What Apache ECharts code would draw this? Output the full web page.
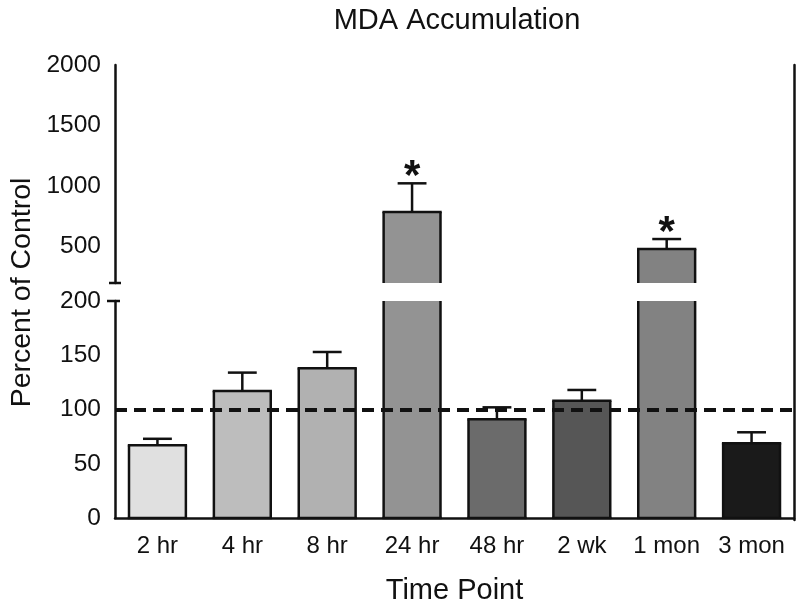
<!DOCTYPE html>
<html>
<head>
<meta charset="utf-8">
<script src="https://cdn.jsdelivr.net/npm/echarts@6/dist/echarts.min.js"></script>
<style>
html, body { margin: 0; padding: 0; background: #fff; }
#chart { width: 800px; height: 606px; }
</style>
</head>
<body>
<div id="chart"></div>
<script>
// data
var categories = ["2 hr", "4 hr", "8 hr", "24 hr", "48 hr", "2 wk", "1 mon", "3 mon"];
var meanValues = [67, 117, 138, 786, 91, 108, 481, 69];
var semValues = [6, 17, 15, 237, 11, 10, 82, 10];
var significant = [0, 0, 0, 1, 0, 0, 1, 0];
var barColors = ["#e0e0e0", "#bdbdbd", "#b1b1b1", "#939393", "#6b6b6b", "#565656", "#828282", "#1a1a1a"];
var lowerTicks = [0, 50, 100, 150, 200];
var upperTicks = [500, 1000, 1500, 2000];
var breakValue = 200;
var upperMax = 2000;
var controlLevel = 100;

var ink = "#111";
var font = "Liberation Sans";

var chart = echarts.init(document.getElementById("chart"), null, { renderer: "canvas" });

function barData(upperOnly) {
  var out = [];
  meanValues.forEach(function (v, i) {
    if (!upperOnly || v > breakValue) out.push([i, v]);
  });
  return out;
}

function errData(upper) {
  var out = [];
  meanValues.forEach(function (v, i) {
    if ((v > breakValue) === upper) out.push([i, v, semValues[i], significant[i]]);
  });
  return out;
}

// bar drawn by hand so the edges cut by the axis break get no outline
function barItem(params, api) {
  var i = api.value(0), v = api.value(1);
  var cs = params.coordSys;
  var w = api.size([1, 0])[0] * 0.67;
  var top = api.coord([i, v]);
  var base = api.coord([i, 0]);
  var x0 = top[0] - w / 2, x1 = top[0] + w / 2;
  var gTop = cs.y, gBot = cs.y + cs.height;
  var y1 = Math.max(top[1], gTop), y2 = Math.min(base[1], gBot);
  var topCut = top[1] < gTop, baseCut = base[1] > gBot + 0.5;
  var stroke = { stroke: ink, lineWidth: 2.5, fill: null };
  var kids = [
    { type: "rect", shape: { x: x0, y: y1, width: w, height: y2 - y1 },
      style: { fill: barColors[i] } },
    { type: "line", shape: { x1: x0, y1: y1, x2: x0, y2: y2 }, style: stroke },
    { type: "line", shape: { x1: x1, y1: y1, x2: x1, y2: y2 }, style: stroke }
  ];
  if (!topCut) kids.push({ type: "line", shape: { x1: x0 - 1.2, y1: y1, x2: x1 + 1.2, y2: y1 }, style: stroke });
  if (!baseCut) kids.push({ type: "line", shape: { x1: x0 - 1.2, y1: y2, x2: x1 + 1.2, y2: y2 }, style: stroke });
  return { type: "group", children: kids };
}

function errorItem(params, api) {
  var i = api.value(0), v = api.value(1), e = api.value(2);
  var base = api.coord([i, v]);
  var top = api.coord([i, v + e]);
  var capW = api.size([1, 0])[0] * 0.34;
  var kids = [
    { type: "line", shape: { x1: base[0], y1: base[1], x2: top[0], y2: top[1] },
      style: { stroke: ink, lineWidth: 2.5 } },
    { type: "line", shape: { x1: top[0] - capW / 2, y1: top[1], x2: top[0] + capW / 2, y2: top[1] },
      style: { stroke: ink, lineWidth: 2.5 } }
  ];
  if (api.value(3)) {
    kids.push({ type: "text", style: { text: "*", x: top[0], y: top[1] - 6,
      align: "center", verticalAlign: "middle", font: "bold 42px " + font, fill: ink } });
  }
  return { type: "group", children: kids };
}

var axisLine = { show: true, lineStyle: { color: ink, width: 2.5 } };
var tickLabel = { color: ink, fontSize: 24.5, fontFamily: font, formatter: function (v) { return String(v); } };

var option = {
  animation: false,
  title: {
    text: "MDA Accumulation",
    left: 452, textAlign: "center", top: 1,
    textStyle: { color: ink, fontSize: 29, fontWeight: "normal", fontFamily: font }
  },
  grid: [
    { left: 115, right: 6, top: 65, height: 218 },
    { left: 115, right: 6, top: 301, height: 219 },
    { left: 115, right: 6, top: 65, bottom: 86 }
  ],
  xAxis: [
    { gridIndex: 0, type: "category", data: categories, show: false },
    {
      gridIndex: 1, type: "category", data: categories,
      axisLine: axisLine,
      axisTick: { alignWithLabel: true, interval: 0, length: 7, lineStyle: { color: ink, width: 2.5 } },
      axisLabel: { color: ink, fontSize: 24, fontFamily: font, margin: 16, interval: 0, hideOverlap: false },
      name: "Time Point", nameLocation: "middle", nameGap: 58,
      nameTextStyle: { color: ink, fontSize: 29, fontFamily: font }
    },
    { gridIndex: 2, type: "value", show: false }
  ],
  yAxis: [
    {
      gridIndex: 0, type: "value", min: breakValue, max: upperMax,
      axisLine: axisLine,
      axisTick: { length: 8, customValues: upperTicks, lineStyle: { color: ink, width: 2.5 } },
      axisLabel: Object.assign({ margin: 14, customValues: upperTicks }, tickLabel),
      splitLine: { show: false }
    },
    {
      gridIndex: 1, type: "value", min: 0, max: breakValue, interval: 50,
      axisLine: axisLine,
      axisTick: { length: 8, lineStyle: { color: ink, width: 2.5 } },
      axisLabel: Object.assign({ margin: 14 }, tickLabel),
      splitLine: { show: false }
    },
    {
      gridIndex: 2, type: "value", position: "left",
      axisLine: { show: false }, axisTick: { show: false }, axisLabel: { show: false },
      splitLine: { show: false },
      name: "Percent of Control", nameLocation: "middle", nameGap: 95, nameRotate: 90,
      nameTextStyle: { color: ink, fontSize: 28.5, fontFamily: font }
    },
    {
      gridIndex: 2, type: "value", position: "right",
      axisLine: axisLine, axisTick: { show: false }, axisLabel: { show: false },
      splitLine: { show: false }
    }
  ],
  series: [
    {
      type: "custom", xAxisIndex: 0, yAxisIndex: 0, data: barData(true),
      renderItem: barItem, clip: false
    },
    {
      type: "custom", xAxisIndex: 1, yAxisIndex: 1, data: barData(false),
      renderItem: barItem, clip: false,
      markLine: {
        silent: true, symbol: "none", label: { show: false }, z: 5,
        lineStyle: { color: ink, width: 4, type: [12, 7] },
        data: [{ yAxis: controlLevel }]
      }
    },
    {
      type: "custom", xAxisIndex: 0, yAxisIndex: 0, data: errData(true),
      renderItem: errorItem, z: 3, clip: false
    },
    {
      type: "custom", xAxisIndex: 1, yAxisIndex: 1, data: errData(false),
      renderItem: errorItem, z: 3, clip: false
    }
  ]
};

chart.setOption(option);

// small caps where the value axis is broken
var lowEnd = chart.convertToPixel({ xAxisIndex: 0, yAxisIndex: 0 }, [0, breakValue]);
var highStart = chart.convertToPixel({ xAxisIndex: 1, yAxisIndex: 1 }, [0, breakValue]);
var ax = chart.getModel().getComponent("grid", 1).coordinateSystem.getRect().x;
chart.setOption({
  graphic: [
    { type: "line", shape: { x1: ax - 6, y1: lowEnd[1], x2: ax + 6, y2: lowEnd[1] },
      style: { stroke: ink, lineWidth: 2.5 } },
    { type: "line", shape: { x1: ax - 8, y1: highStart[1], x2: ax + 5, y2: highStart[1] },
      style: { stroke: ink, lineWidth: 2.5 } }
  ]
});
</script>
</body>
</html>
